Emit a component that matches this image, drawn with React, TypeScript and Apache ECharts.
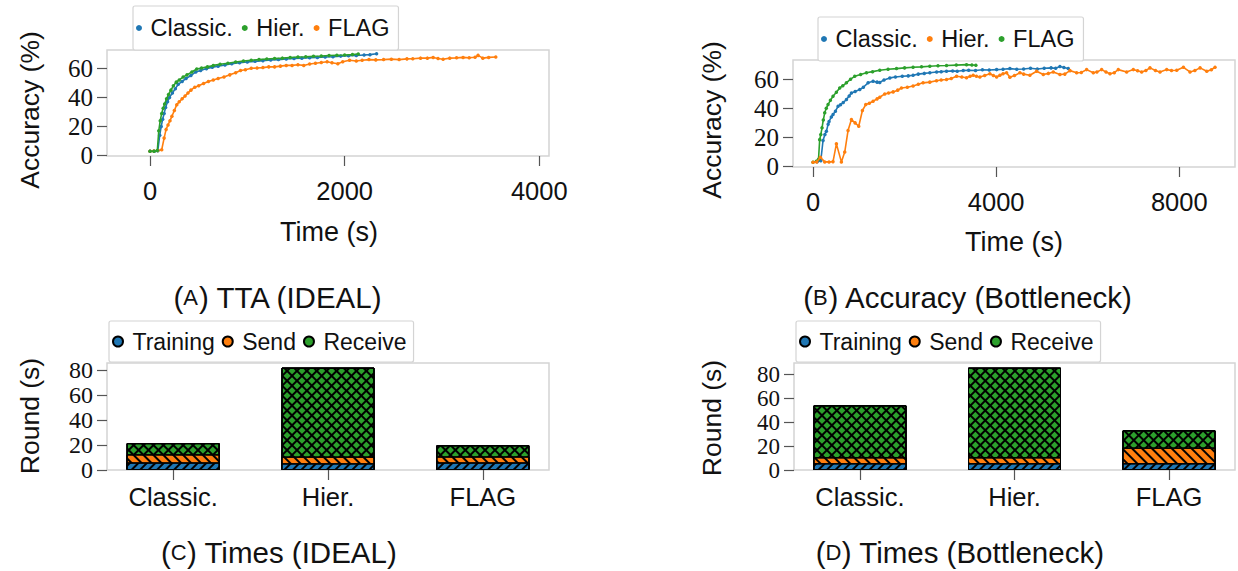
import React, { useEffect, useRef } from 'react';
import * as echarts from 'echarts';

const BLUE = '#1f77b4';
const ORANGE = '#ff7f0e';
const GREEN = '#2ca02c';
const SANS = '"Liberation Sans", Arial, Helvetica, sans-serif';
const SERIF = '"Liberation Serif", "DejaVu Serif", serif';
const FRAME = '#d4d4d4';
const TXT = '#111';

// ---------- (A) TTA (IDEAL) : [time s, accuracy %] ----------
const classicA: number[][] = [
  [0, 3], [45, 3], [80, 3.3], [100, 14], [115, 20], [130, 25], [145, 29], [160, 33], [180, 37], [200, 40],
  [230, 43], [260, 46], [290, 49], [330, 51], [370, 53], [420, 55], [470, 57.5], [520, 58.5], [580, 59.8],
  [640, 60.8], [700, 61.5], [770, 62.3], [840, 63.2], [920, 63.8], [1000, 64.4], [1080, 64.8], [1160, 65.3],
  [1240, 65.8], [1320, 66], [1400, 66.4], [1480, 66.8], [1560, 67], [1640, 67.3], [1720, 67.5], [1800, 67.8],
  [1880, 68], [1960, 68.4], [2040, 68.6], [2120, 68.8], [2200, 69.2], [2260, 69.4], [2328, 70],
];
const hierA: number[][] = [
  [0, 3], [40, 3], [75, 3.5], [90, 17], [105, 24], [120, 29], [135, 32.5], [150, 35.5], [170, 39],
  [190, 42], [215, 45], [240, 48], [270, 50.5], [300, 52], [340, 54], [380, 55.5], [430, 57.5], [480, 59.5],
  [530, 60.2], [590, 61], [650, 62], [720, 62.8], [800, 63.5], [880, 64.3], [960, 65], [1040, 65.5],
  [1120, 66], [1200, 66.4], [1280, 66.8], [1360, 67], [1440, 67.4], [1520, 67.8], [1600, 68], [1680, 68.3],
  [1760, 68.5], [1840, 68.8], [1920, 69], [2000, 69.2], [2080, 69.5], [2140, 69.8],
];
const flagA: number[][] = [
  [0, 3], [40, 3.2], [80, 3.5], [120, 4], [145, 12], [165, 18], [185, 21], [205, 24], [225, 27], [250, 31],
  [275, 35], [300, 37], [330, 39], [360, 41], [390, 43], [420, 45], [460, 47], [500, 48], [550, 49.5],
  [600, 51], [650, 52], [700, 53], [760, 54], [820, 55.5], [880, 57], [930, 58.5], [980, 59], [1040, 60],
  [1100, 60.2], [1160, 60.5], [1220, 61], [1280, 61], [1340, 61.5], [1400, 62], [1460, 62], [1520, 62.5],
  [1580, 62], [1640, 63], [1700, 63.5], [1760, 64], [1820, 64.5], [1870, 63.8], [1930, 63.2], [1980, 64.5],
  [2050, 65.5], [2120, 65], [2180, 65.5], [2250, 66], [2320, 65.8], [2400, 66], [2480, 66.3], [2560, 66],
  [2640, 66.5], [2700, 66.6], [2780, 67], [2850, 67], [2910, 67.5], [2960, 66.8], [3012, 66.2], [3080, 67],
  [3150, 67.2], [3217, 67.5], [3280, 67.3], [3340, 67.6], [3371, 68.9], [3420, 67], [3480, 67.5], [3553, 67.8],
];

// ---------- (B) Accuracy (Bottleneck) ----------
const classicB: number[][] = [
  [90, 3.3], [170, 4], [219, 17.9], [260, 22], [292, 24.3], [330, 29], [350, 31], [400, 34], [437, 35.7],
  [490, 38], [547, 41.4], [600, 42.5], [660, 44], [730, 46], [790, 48.5], [839, 50.6], [920, 51.5],
  [1021, 52.9], [1100, 54.5], [1203, 57.5], [1312, 58.6], [1400, 58], [1458, 57.8], [1550, 59.5],
  [1677, 60.9], [1800, 61.5], [1950, 62], [2080, 62.3], [2186, 62.7], [2300, 63.5], [2430, 64],
  [2551, 64.4], [2700, 65], [2800, 65.2], [2916, 65.5], [3050, 65.7], [3150, 65.5], [3281, 66],
  [3400, 66.2], [3550, 66], [3700, 66.5], [3850, 66.3], [4010, 66.6], [4150, 66.8], [4300, 67.3],
  [4450, 66.8], [4600, 67], [4750, 67.5], [4900, 67], [5050, 67.5], [5200, 67.8], [5300, 67.5],
  [5393, 68.7], [5480, 68], [5575, 67.3],
];
const hierB: number[][] = [
  [0, 3], [80, 3.2], [161, 6.4], [256, 3.2], [350, 3.2], [437, 3.4], [511, 15.6], [620, 3.2], [693, 10],
  [765, 24.7], [839, 32.3], [920, 30], [999, 27.7], [1079, 38.5], [1152, 42.6], [1230, 43.5], [1312, 44.9],
  [1400, 46.5], [1458, 47.6], [1567, 49.9], [1650, 50.5], [1750, 51.3], [1850, 52.5], [1932, 54],
  [2060, 54.5], [2186, 55.3], [2300, 56.5], [2404, 57.5], [2550, 58], [2697, 59], [2800, 59.5],
  [2916, 59.8], [3020, 60.5], [3135, 62], [3250, 61.5], [3353, 61], [3430, 62], [3498, 62.7], [3570, 62],
  [3644, 61.5], [3750, 62.5], [3863, 63.7], [3940, 62.5], [4010, 61.5], [4081, 62.7], [4150, 63.7],
  [4228, 64.4], [4300, 61.4], [4400, 62.5], [4519, 64.4], [4600, 63.5], [4737, 62.7], [4884, 65.5],
  [5030, 63.2], [5140, 64], [5248, 65], [5393, 63.2], [5500, 63.5], [5612, 65.9], [5758, 64.4],
  [5860, 64.6], [5976, 66.6], [6122, 64.4], [6200, 65], [6304, 66.6], [6400, 65], [6486, 63.7],
  [6580, 64.5], [6668, 66.6], [6850, 65], [6996, 66.6], [7090, 65.8], [7178, 65], [7270, 66],
  [7360, 67.8], [7480, 66], [7579, 65], [7725, 66.6], [7830, 66], [7944, 66.2], [8090, 68.2],
  [8234, 65], [8340, 66], [8454, 67.8], [8600, 65.5], [8700, 66.5], [8781, 68.2],
];
const flagB: number[][] = [
  [0, 3], [74, 3.6], [120, 5], [146, 18.5], [170, 22], [197, 26.6], [225, 32], [256, 36.9], [290, 40],
  [328, 42.6], [380, 45.5], [437, 48.3], [510, 51], [583, 54], [650, 55.5], [729, 57.5], [820, 60],
  [911, 62], [1040, 63.3], [1167, 64.4], [1300, 65.2], [1458, 66.2], [1640, 66.8], [1823, 67.3],
  [2000, 67.8], [2186, 68.2], [2370, 68.5], [2551, 68.9], [2730, 69.2], [2916, 69.4], [3130, 69.7],
  [3353, 70], [3470, 69.8], [3557, 69.6],
];

// ---------- bar panels (seconds per round) ----------
const barCategories = ['Classic.', 'Hier.', 'FLAG'];
const trainingIdeal = [6, 5.3, 6];
const sendIdeal = [6.5, 5.4, 4.8];
const receiveIdeal = [9, 71.2, 9];
const trainingBottleneck = [5.6, 5.6, 5.6];
const sendBottleneck = [5, 5, 13.1];
const receiveBottleneck = [43.5, 75, 14.5];

const lineYTicks = [0, 20, 40, 60];
const barYTicks = [0, 20, 40, 60, 80];
const xTicksA = [0, 2000, 4000];
const xTicksB = [0, 4000, 8000];

const tick = { show: true, length: 10, lineStyle: { color: '#555', width: 1.2 } };

function xAxisValue(min: number, max: number, ticks: number[], margin: number, formatter?: (v: number) => string) {
  return {
    type: 'value', min, max,
    axisLine: { show: false, onZero: false },
    axisTick: { ...tick, customValues: ticks },
    axisLabel: {
      customValues: ticks, margin, fontSize: 25.5, fontFamily: SANS, color: TXT, hideOverlap: false,
      formatter: formatter || ((v: number) => String(v)),
    },
    splitLine: { show: false },
  };
}
function yAxisValue(min: number, max: number, ticks: number[], size: number) {
  return {
    type: 'value', min, max,
    axisLine: { show: false, onZero: false },
    axisTick: { ...tick, customValues: ticks },
    axisLabel: {
      customValues: ticks, margin: 14, fontSize: size, lineHeight: size, fontFamily: SERIF, color: TXT,
      hideOverlap: false, showMinLabel: true, showMaxLabel: true,
    },
    splitLine: { show: false },
  };
}
function gridBox(left: number, top: number, width: number, height: number) {
  return { left, top, width, height, show: true, borderColor: FRAME, borderWidth: 1.5, backgroundColor: '#fff' };
}
function legendBox(left: number, top: number, names: string[], bars: boolean) {
  return {
    left, top, orient: 'horizontal', icon: 'circle', selectedMode: false,
    itemWidth: bars ? 19 : 13, itemHeight: bars ? 10 : 6, itemGap: bars ? 7 : 9,
    padding: bars ? [9, 7, 9, 3] : [10, 9, 10, 3],
    backgroundColor: '#fff', borderColor: FRAME, borderWidth: 1.2, borderRadius: 2,
    textStyle: { fontSize: bars ? 23 : 23.5, fontFamily: SANS, color: TXT },
    data: names,
  };
}
function label(x: number, y: number, text: string, size: number, rotate = 0, rich?: any) {
  return {
    type: 'text', x, y, rotation: rotate,
    style: {
      text, fontSize: size, fontFamily: SANS, fill: TXT, align: 'center', verticalAlign: 'middle',
      rich: rich || {},
    },
  };
}
function caption(x: number, y: number, text: string) {
  return label(x, y, text, 29.5, 0, { sc: { fontSize: 22, fontFamily: SANS, fill: TXT } });
}
function lineSeries(name: string, data: number[][], color: string, z: number) {
  return {
    type: 'line', name, data, z, showSymbol: true, symbol: 'circle', symbolSize: 3.5,
    lineStyle: { width: 1.6, color }, itemStyle: { color }, emphasis: { disabled: true },
  };
}
function pairs(vals: number[]) {
  return vals.map((v, i) => [i, v]);
}
const hatchSlash = { symbol: 'rect', symbolSize: 1, dashArrayX: [1, 0], dashArrayY: [1.1, 3.3], rotation: -Math.PI / 4, color: '#000' };
const hatchBack = { symbol: 'rect', symbolSize: 1, dashArrayX: [1, 0], dashArrayY: [1.1, 4.2], rotation: Math.PI / 4, color: '#000' };
const crossA = { symbol: 'rect', symbolSize: 1, dashArrayX: [1, 0], dashArrayY: [1.1, 5], rotation: -Math.PI / 4, color: '#000' };
const crossB = { symbol: 'rect', symbolSize: 1, dashArrayX: [1, 0], dashArrayY: [1.1, 5], rotation: Math.PI / 4, color: '#000' };

function barSeries(train: number[], send: number[], recv: number[]) {
  // segments drawn as overlapping bars from 0 up to the cumulative top of each segment
  const tTop = train.slice();
  const sTop = train.map((t, i) => t + send[i]);
  const rTop = sTop.map((s, i) => s + recv[i]);
  const base = { type: 'bar', barWidth: 93, barGap: '-100%', emphasis: { disabled: true } };
  const solid = (name: string, top: number[], color: string) => ({
    ...base, name, data: pairs(top),
    itemStyle: { color, borderColor: '#000', borderWidth: 1 },
  });
  const hatch = (name: string, top: number[], decal: any) => ({
    ...base, name, data: pairs(top),
    itemStyle: { color: 'rgba(0,0,0,0)', borderColor: '#000', borderWidth: 1, decal },
  });
  return [
    solid('Receive', rTop, GREEN),
    hatch('hatch-receive-1', rTop, crossA),
    hatch('hatch-receive-2', rTop, crossB),
    solid('Send', sTop, ORANGE),
    hatch('hatch-send', sTop, hatchBack),
    solid('Training', tTop, BLUE),
    hatch('hatch-training', tTop, hatchSlash),
  ];
}

const optionA = {
  animation: false,
  grid: gridBox(107, 50, 442, 106),
  legend: legendBox(133, 6, ['Classic.', 'Hier.', 'FLAG'], false),
  xAxis: xAxisValue(-442, 4100, xTicksA, 22),
  yAxis: yAxisValue(-0.3, 72.6, lineYTicks, 25),
  series: [lineSeries('Classic.', classicA, BLUE, 2), lineSeries('Hier.', hierA, GREEN, 3), lineSeries('FLAG', flagA, ORANGE, 2)],
  graphic: [
    label(30, 110, 'Accuracy (%)', 26.5, Math.PI / 2),
    label(329, 232, 'Time (s)', 27),
    caption(278, 297, '({sc|A}) TTA (IDEAL)'),
  ],
};
const optionB = {
  animation: false,
  grid: gridBox(174, 60, 442, 107),
  legend: legendBox(199, 17, ['Classic.', 'Hier.', 'FLAG'], false),
  xAxis: xAxisValue(-437, 9217, xTicksB, 22),
  yAxis: yAxisValue(-0.3, 73.2, lineYTicks, 25),
  series: [lineSeries('Classic.', classicB, BLUE, 2), lineSeries('Hier.', hierB, ORANGE, 3), lineSeries('FLAG', flagB, GREEN, 2)],
  graphic: [
    label(93, 120, 'Accuracy (%)', 26.5, Math.PI / 2),
    label(395, 242, 'Time (s)', 27),
    caption(349, 297, '({sc|B}) Accuracy (Bottleneck)'),
  ],
};
const optionC = {
  animation: false,
  grid: gridBox(107, 43, 442, 107),
  legend: legendBox(109, 1, ['Training', 'Send', 'Receive'], true),
  xAxis: xAxisValue(-0.427, 2.427, [0, 1, 2], 14, (v: number) => barCategories[Math.round(v)]),
  yAxis: yAxisValue(0, 85.6, barYTicks, 24),
  series: barSeries(trainingIdeal, sendIdeal, receiveIdeal),
  graphic: [
    label(30, 96, 'Round (s)', 26.5, Math.PI / 2),
    caption(279, 232, '({sc|C}) Times (IDEAL)'),
  ],
};
const optionD = {
  animation: false,
  grid: gridBox(175, 43, 441, 107),
  legend: legendBox(177, 1, ['Training', 'Send', 'Receive'], true),
  xAxis: xAxisValue(-0.427, 2.427, [0, 1, 2], 14, (v: number) => barCategories[Math.round(v)]),
  yAxis: yAxisValue(0, 89.5, barYTicks, 23),
  series: barSeries(trainingBottleneck, sendBottleneck, receiveBottleneck),
  graphic: [
    label(93, 98, 'Round (s)', 26.5, Math.PI / 2),
    caption(341, 232, '({sc|D}) Times (Bottleneck)'),
  ],
};

function Panel(props: { option: any; left: number; top: number; width: number; height: number }) {
  const ref = useRef<HTMLDivElement>(null);
  useEffect(() => {
    const chart = echarts.init(ref.current as HTMLDivElement, null, { renderer: 'svg' });
    chart.setOption(props.option);
    return () => chart.dispose();
  }, []);
  return (
    <div ref={ref} style={{ position: 'absolute', left: props.left, top: props.top, width: props.width, height: props.height }} />
  );
}

export default function App() {
  return (
    <div style={{ position: 'fixed', left: 0, top: 0, width: 1238, height: 571, background: '#fff' }}>
      <Panel option={optionA} left={0} top={0} width={619} height={320} />
      <Panel option={optionB} left={619} top={0} width={619} height={320} />
      <Panel option={optionC} left={0} top={320} width={619} height={251} />
      <Panel option={optionD} left={619} top={320} width={619} height={251} />
    </div>
  );
}
